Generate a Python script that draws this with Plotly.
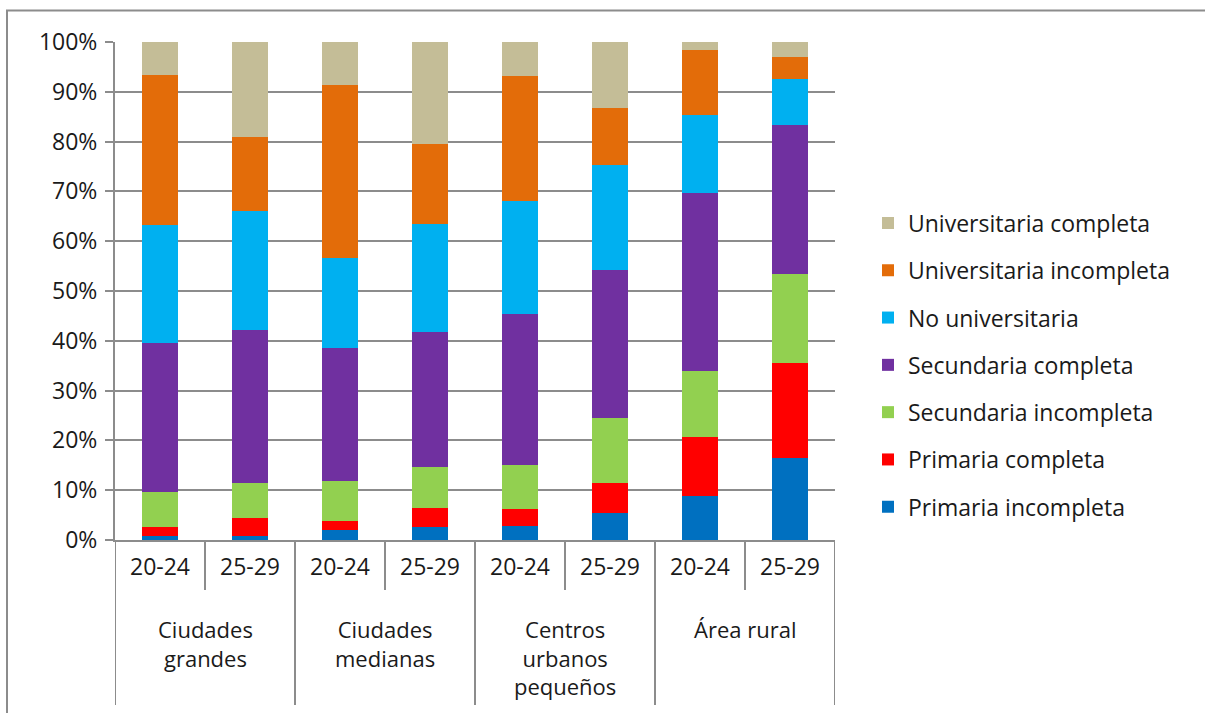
import plotly.graph_objects as go

# Zonas y grupos de edad
zonas = ["Ciudades<br>grandes", "Ciudades<br>medianas", "Centros<br>urbanos<br>pequeños", "Área rural"]
edades = ["20-24", "25-29"]

# Porcentajes por nivel educativo (orden de las barras: zona x edad)
primaria_incompleta = [0.9, 0.8, 2.0, 2.6, 2.8, 5.4, 8.8, 16.4]
primaria_completa = [1.8, 3.7, 1.9, 3.9, 3.5, 6.1, 11.8, 19.2]
secundaria_incompleta = [6.9, 7.0, 8.0, 8.1, 8.7, 13.0, 13.3, 18.0]
secundaria_completa = [30.0, 30.6, 26.7, 27.2, 30.3, 29.7, 35.8, 30.0]
no_universitaria = [23.6, 24.0, 18.0, 21.7, 22.7, 21.1, 15.7, 9.2]
universitaria_incompleta = [30.2, 14.9, 34.7, 16.1, 25.2, 11.4, 12.9, 4.3]
universitaria_completa = [6.6, 19.0, 8.7, 20.4, 6.8, 13.3, 1.7, 3.1]

series = [
    ("Primaria incompleta", primaria_incompleta, "#0070C0"),
    ("Primaria completa", primaria_completa, "#FF0000"),
    ("Secundaria incompleta", secundaria_incompleta, "#92D050"),
    ("Secundaria completa", secundaria_completa, "#7030A0"),
    ("No universitaria", no_universitaria, "#00B0F0"),
    ("Universitaria incompleta", universitaria_incompleta, "#E36C09"),
    ("Universitaria completa", universitaria_completa, "#C4BD97"),
]

etiquetas = [e for z in zonas for e in edades]
xpos = list(range(len(etiquetas)))
totales = [sum(s[1][i] for s in series) for i in xpos]

GRIS = "#8c8c8c"
FUENTE = "Open Sans"
TAM = 23
W, H = 1205, 713
L, R, T, B = 115, 370, 42, 173
plot_h = H - T - B


def py(px):  # pixel vertical -> coordenada paper
    return (H - B - px) / plot_h


def pxx(px):
    return (px - L) / (W - L - R)


fig = go.Figure()
for k, (nombre, vals, color) in enumerate(series):
    fig.add_trace(go.Bar(
        x=xpos, y=[v / t for v, t in zip(vals, totales)], name=nombre,
        marker=dict(color=color, line=dict(width=0)),
        legendgroup=nombre, legendrank=100 - k, width=0.4,
    ))

shapes = []
# separadores entre edades (cortos) y entre zonas (largos)
for i in range(len(etiquetas) + 1):
    xb = i - 0.5
    largo = (i % len(edades) == 0)
    shapes.append(dict(type="line", xref="x", yref="paper", x0=xb, x1=xb,
                       y0=0, y1=py(705) if largo else py(590),
                       line=dict(color=GRIS, width=2)))
# marco exterior
shapes.append(dict(type="rect", xref="paper", yref="paper",
                   x0=pxx(7), x1=pxx(1212), y0=py(720), y1=py(10.5),
                   line=dict(color=GRIS, width=2), fillcolor="rgba(0,0,0,0)", layer="below"))

annotations = []
for k, z in enumerate(zonas):
    centro = sum(xpos[k * len(edades):(k + 1) * len(edades)]) / len(edades)
    annotations.append(dict(x=centro, xref="x", y=py(612), yref="paper", text=z,
                            showarrow=False, yanchor="top", xanchor="center",
                            font=dict(size=TAM - 1, color="#1a1a1a", family=FUENTE)))

fig.update_layout(
    barmode="stack",
    width=W, height=H,
    margin=dict(l=L, r=R, t=T, b=B),
    plot_bgcolor="white", paper_bgcolor="white",
    font=dict(family=FUENTE, size=TAM, color="#1a1a1a"),
    shapes=shapes,
    annotations=annotations,
    legend=dict(
        traceorder="grouped", tracegroupgap=14.4,
        x=pxx(868), xanchor="left", y=py(201.5), yanchor="top",
        font=dict(size=TAM, family=FUENTE, color="#1a1a1a"),
        bgcolor="rgba(0,0,0,0)",
    ),
    xaxis=dict(
        range=[-0.5, len(etiquetas) - 0.5], tickvals=xpos, ticktext=etiquetas,
        ticks="", showgrid=False, showline=True, linecolor=GRIS, linewidth=2,
        zeroline=False, ticklabelstandoff=5, tickfont=dict(size=TAM),
    ),
    yaxis=dict(
        range=[0, 1], dtick=0.1, tickformat=".0%", showgrid=True, gridcolor=GRIS,
        gridwidth=2, showline=True, linecolor=GRIS, linewidth=2, ticks="outside",
        ticklen=8, tickcolor=GRIS, tickwidth=2, zeroline=False,
        ticklabelstandoff=3, tickfont=dict(size=TAM),
    ),
)

fig.write_html("out.html", config={"displayModeBar": False},
               post_script="document.body.style.margin='0px';")
